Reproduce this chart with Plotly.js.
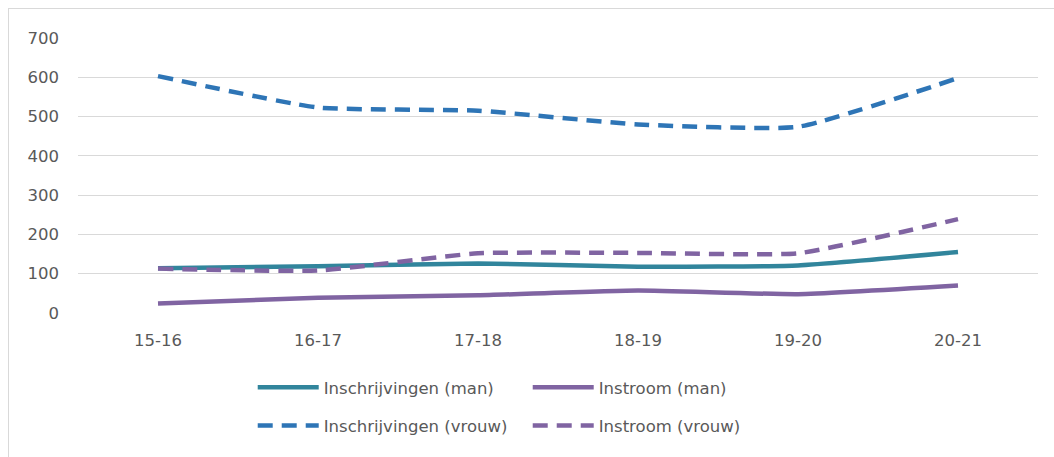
<!DOCTYPE html>
<html>
<head>
<meta charset="utf-8">
<script src="https://cdn.plot.ly/plotly-3.0.1.min.js"></script>
<style>
  html, body { margin: 0; padding: 0; background: #ffffff; }
  #wrap { position: relative; width: 1054px; height: 457px; overflow: hidden; }
  #frame { position: absolute; left: 8px; top: 8px; width: 1100px; height: 500px;
           border-left: 1px solid #D9D9D9; border-top: 1px solid #D9D9D9; box-sizing: border-box; pointer-events: none; }
  #chart { position: absolute; left: 0; top: 0; width: 1054px; height: 457px; }
</style>
</head>
<body>
<div id="wrap">
  <div id="chart"></div>
  <div id="frame"></div>
</div>
<script>
const categories = ["15-16", "16-17", "17-18", "18-19", "19-20", "20-21"];
const inschrijvingenMan   = [114, 119, 126, 118, 121, 155];
const instroomMan         = [24, 39, 45, 57, 48, 70];
const inschrijvingenVrouw = [603, 523, 515, 480, 474, 598];
const instroomVrouw       = [113, 108, 152, 153, 152, 239];
const yTicks = [0, 100, 200, 300, 400, 500, 600, 700];

const textColor = "#595959";
const fontFamily = "DejaVu Sans, Verdana, sans-serif";
const smooth = 0.45;

const traces = [
  { name: "Inschrijvingen (man)", x: categories, y: inschrijvingenMan, type: "scatter", mode: "lines",
    line: { color: "#31859C", width: 4.5, shape: "spline", smoothing: smooth }, legend: "legend" },
  { name: "Instroom (man)", x: categories, y: instroomMan, type: "scatter", mode: "lines",
    line: { color: "#8064A2", width: 4.5, shape: "spline", smoothing: smooth }, legend: "legend" },
  { name: "Inschrijvingen (vrouw)", x: categories, y: inschrijvingenVrouw, type: "scatter", mode: "lines",
    line: { color: "#2E75B6", width: 4.5, shape: "spline", smoothing: smooth, dash: "15px,9px" }, legend: "legend2" },
  { name: "Instroom (vrouw)", x: categories, y: instroomVrouw, type: "scatter", mode: "lines",
    line: { color: "#8064A2", width: 4.5, shape: "spline", smoothing: smooth, dash: "15px,9px" }, legend: "legend2" }
];

const legendCommon = {
  orientation: "h", xanchor: "left", yanchor: "middle", x: 0.182,
  font: { family: fontFamily, size: 16.5, color: textColor },
  bgcolor: "rgba(0,0,0,0)", entrywidth: 199, entrywidthmode: "pixels",
  itemwidth: 61, traceorder: "normal", tracegroupgap: 0
};

const layout = {
  width: 1054, height: 457,
  margin: { l: 78, r: 16, t: 38, b: 144 },
  paper_bgcolor: "rgba(0,0,0,0)", plot_bgcolor: "#ffffff",
  font: { family: fontFamily, size: 16, color: textColor },
  showlegend: true,
  xaxis: {
    type: "category", range: [-0.5, 5.5], showgrid: false, zeroline: false, showline: false,
    ticks: "", tickfont: { family: fontFamily, size: 16.5, color: textColor }, ticklabelstandoff: 15,
    fixedrange: true
  },
  yaxis: {
    range: [0, 700], tickvals: yTicks, ticktext: yTicks.map(String), showgrid: true,
    gridcolor: "#D9D9D9", gridwidth: 1, zeroline: false, showline: false, ticks: "",
    tickfont: { family: fontFamily, size: 16.5, color: textColor }, ticklabelstandoff: 18,
    fixedrange: true
  },
  legend: Object.assign({}, legendCommon, { y: -0.271 }),
  legend2: Object.assign({}, legendCommon, { y: -0.41 })
};

Plotly.newPlot("chart", traces, layout, { displayModeBar: false, staticPlot: true });
</script>
</body>
</html>
